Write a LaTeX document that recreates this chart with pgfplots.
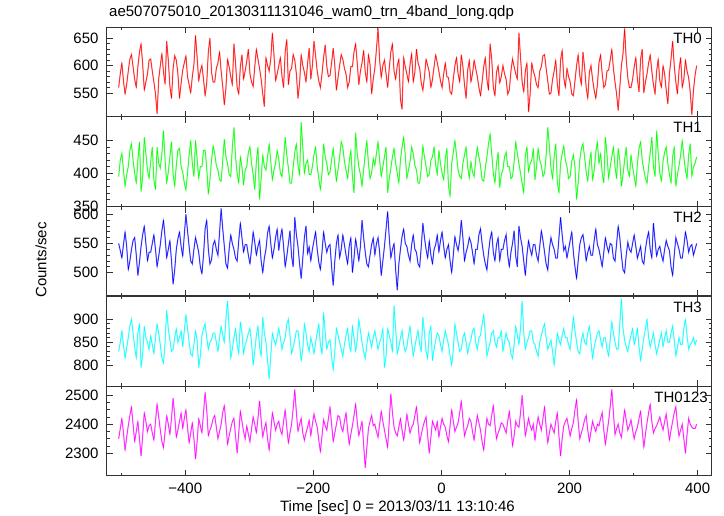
\documentclass[border=0pt]{standalone}
\usepackage{fontspec}
\setmainfont{Liberation Sans}
\usepackage{pgfplots}
\usepackage{pgfplotstable}
\pgfplotsset{compat=1.18}

\definecolor{cRed}{RGB}{255,0,0}
\definecolor{cGreen}{RGB}{0,255,0}
\definecolor{cBlue}{RGB}{0,0,255}
\definecolor{cCyan}{RGB}{0,255,255}
\definecolor{cMag}{RGB}{255,0,255}
\definecolor{frameC}{RGB}{50,50,50}

% Light curves, 2.5 s bins starting at -504 s
\pgfplotstableread[row sep=\\]{y\\
560\\585\\605\\572\\548\\566\\590\\612\\620\\598\\575\\560\\598\\625\\640\\602\\555\\570\\585\\610\\
612\\590\\570\\548\\512\\575\\600\\622\\588\\566\\645\\610\\562\\540\\595\\618\\610\\585\\540\\568\\
592\\605\\618\\580\\565\\550\\580\\602\\655\\615\\572\\590\\600\\575\\545\\568\\625\\650\\588\\570\\
570\\595\\605\\625\\590\\562\\528\\560\\612\\598\\580\\565\\640\\605\\560\\548\\598\\620\\575\\590\\
608\\630\\585\\570\\562\\598\\630\\612\\595\\575\\548\\525\\615\\600\\590\\612\\660\\620\\572\\585\\
600\\615\\580\\560\\625\\648\\565\\590\\595\\620\\610\\585\\540\\568\\620\\600\\588\\570\\605\\632\\
575\\600\\645\\618\\590\\572\\560\\585\\615\\638\\598\\580\\582\\605\\632\\600\\555\\578\\600\\620\\
612\\595\\585\\560\\570\\598\\598\\625\\640\\605\\565\\590\\605\\628\\588\\570\\620\\602\\548\\575\\
595\\630\\668\\610\\578\\600\\610\\585\\560\\595\\625\\640\\590\\575\\600\\612\\538\\520\\615\\598\\
585\\570\\602\\622\\570\\588\\630\\605\\595\\568\\555\\580\\612\\600\\588\\560\\575\\598\\620\\605\\
590\\572\\560\\585\\605\\580\\578\\552\\548\\575\\600\\615\\585\\570\\620\\598\\565\\540\\592\\610\\
570\\585\\610\\595\\580\\560\\545\\570\\598\\615\\575\\555\\640\\612\\560\\545\\588\\600\\568\\580\\
600\\585\\575\\548\\555\\590\\612\\598\\585\\575\\660\\615\\570\\552\\590\\605\\515\\548\\605\\590\\
580\\565\\560\\590\\598\\618\\620\\595\\572\\548\\550\\575\\590\\610\\565\\545\\610\\628\\578\\560\\
595\\580\\570\\548\\545\\572\\600\\620\\582\\565\\625\\598\\560\\540\\588\\600\\575\\555\\540\\565\\
605\\620\\585\\560\\565\\590\\592\\610\\630\\595\\570\\548\\518\\560\\600\\622\\668\\612\\578\\560\\
560\\575\\598\\615\\575\\552\\612\\630\\550\\570\\585\\605\\620\\590\\565\\548\\590\\612\\572\\560\\
600\\585\\555\\530\\585\\612\\645\\600\\570\\548\\592\\615\\560\\575\\610\\590\\578\\552\\510\\555\\
582\\600\\}\thzero

\pgfplotstableread[row sep=\\]{y\\
395\\420\\430\\405\\380\\398\\410\\435\\445\\420\\400\\385\\420\\448\\372\\395\\455\\430\\405\\392\\
418\\440\\390\\375\\440\\415\\408\\430\\465\\420\\385\\402\\425\\448\\398\\380\\412\\435\\438\\410\\
402\\385\\375\\400\\428\\450\\415\\395\\450\\422\\392\\410\\410\\435\\435\\408\\368\\390\\420\\442\\
430\\412\\405\\390\\388\\420\\452\\425\\415\\398\\395\\440\\470\\425\\400\\385\\425\\410\\382\\405\\
410\\432\\440\\415\\398\\375\\418\\440\\360\\392\\428\\410\\405\\425\\445\\418\\390\\405\\415\\435\\
422\\400\\395\\420\\455\\428\\408\\385\\385\\410\\432\\445\\412\\398\\478\\440\\400\\415\\420\\398\\
398\\410\\428\\440\\410\\392\\375\\400\\445\\425\\415\\398\\402\\420\\438\\412\\388\\405\\425\\448\\
440\\418\\405\\392\\418\\435\\395\\370\\462\\430\\410\\398\\380\\405\\430\\450\\415\\392\\400\\422\\
412\\430\\448\\420\\395\\410\\425\\440\\370\\392\\408\\425\\438\\415\\400\\385\\420\\440\\455\\428\\
392\\405\\418\\440\\430\\412\\405\\385\\385\\408\\442\\425\\410\\395\\398\\420\\425\\440\\412\\398\\
435\\415\\400\\390\\422\\438\\380\\365\\415\\432\\450\\428\\405\\395\\392\\415\\428\\440\\410\\392\\
418\\402\\395\\420\\440\\425\\412\\390\\388\\408\\425\\445\\460\\430\\400\\385\\415\\432\\378\\398\\
405\\425\\432\\410\\410\\392\\395\\418\\448\\430\\415\\400\\385\\370\\428\\440\\402\\415\\420\\438\\
390\\410\\438\\420\\412\\395\\400\\428\\470\\442\\408\\392\\425\\445\\385\\370\\415\\430\\442\\420\\
410\\392\\395\\418\\428\\410\\360\\385\\420\\438\\445\\425\\402\\388\\415\\432\\390\\405\\432\\448\\
415\\430\\400\\385\\455\\428\\392\\410\\425\\440\\410\\392\\438\\420\\380\\398\\420\\440\\405\\395\\
428\\410\\395\\380\\415\\438\\448\\420\\405\\392\\385\\410\\432\\455\\410\\395\\465\\430\\400\\388\\
418\\432\\440\\415\\398\\385\\425\\440\\380\\398\\412\\428\\450\\425\\405\\392\\428\\445\\395\\410\\
415\\425\\}\thone

\pgfplotstableread[row sep=\\]{y\\
550\\538\\525\\548\\570\\545\\505\\520\\540\\555\\560\\530\\495\\518\\545\\565\\580\\550\\520\\535\\
535\\550\\565\\540\\510\\528\\548\\572\\590\\560\\525\\540\\555\\520\\480\\505\\540\\558\\570\\545\\
528\\565\\600\\572\\545\\520\\515\\540\\560\\548\\535\\510\\498\\530\\575\\590\\540\\515\\522\\548\\
555\\540\\530\\568\\610\\575\\545\\515\\508\\540\\565\\550\\540\\525\\520\\555\\585\\560\\535\\548\\
548\\530\\515\\540\\570\\552\\530\\545\\555\\520\\500\\525\\540\\568\\580\\550\\525\\540\\560\\575\\
538\\560\\575\\545\\510\\528\\550\\572\\528\\510\\595\\565\\545\\515\\490\\525\\560\\580\\532\\545\\
520\\540\\555\\570\\540\\518\\505\\535\\570\\550\\535\\545\\548\\510\\478\\520\\550\\565\\525\\540\\
565\\548\\530\\515\\545\\560\\500\\525\\558\\540\\520\\545\\590\\560\\535\\515\\510\\530\\548\\560\\
530\\550\\560\\535\\495\\520\\545\\575\\605\\560\\525\\540\\550\\505\\470\\515\\540\\562\\575\\550\\
545\\530\\520\\548\\565\\540\\535\\515\\510\\545\\585\\560\\540\\525\\555\\530\\515\\540\\548\\565\\
535\\555\\570\\545\\525\\540\\548\\520\\500\\530\\562\\548\\538\\555\\590\\560\\520\\535\\545\\560\\
552\\535\\515\\540\\540\\565\\575\\550\\530\\515\\505\\535\\558\\570\\535\\520\\548\\560\\520\\540\\
540\\555\\565\\530\\510\\535\\550\\572\\528\\510\\580\\560\\545\\520\\495\\530\\555\\540\\530\\548\\
548\\530\\520\\545\\572\\555\\535\\515\\505\\540\\560\\548\\540\\525\\525\\560\\595\\565\\538\\545\\
525\\540\\555\\570\\535\\510\\490\\520\\548\\560\\565\\545\\520\\535\\545\\530\\530\\555\\575\\548\\
540\\525\\510\\535\\560\\545\\535\\550\\548\\525\\520\\550\\580\\560\\530\\505\\500\\530\\552\\540\\
535\\550\\565\\545\\525\\535\\545\\520\\515\\540\\558\\570\\540\\525\\585\\555\\528\\540\\545\\530\\
520\\540\\555\\545\\538\\510\\495\\530\\560\\550\\540\\525\\525\\545\\570\\555\\535\\545\\548\\530\\
540\\550\\}\thtwo

\pgfplotstableread[row sep=\\]{y\\
830\\850\\875\\845\\815\\838\\860\\885\\900\\870\\840\\815\\870\\890\\795\\825\\885\\860\\850\\835\\
865\\845\\825\\860\\890\\870\\845\\815\\805\\850\\920\\880\\855\\830\\835\\860\\880\\850\\860\\875\\
840\\875\\910\\880\\850\\825\\820\\845\\875\\855\\795\\820\\865\\880\\890\\860\\835\\850\\855\\870\\
870\\850\\830\\860\\885\\865\\850\\900\\940\\880\\815\\835\\860\\880\\845\\825\\895\\870\\825\\845\\
855\\870\\880\\850\\800\\830\\865\\885\\840\\820\\905\\870\\850\\810\\770\\820\\870\\855\\845\\860\\
880\\860\\835\\850\\860\\890\\900\\865\\825\\840\\855\\875\\875\\845\\810\\835\\890\\870\\845\\830\\
860\\845\\825\\850\\870\\890\\845\\825\\915\\870\\835\\850\\855\\820\\790\\830\\880\\865\\850\\835\\
820\\845\\865\\880\\845\\830\\885\\860\\830\\855\\900\\875\\850\\830\\815\\845\\870\\855\\840\\860\\
875\\855\\835\\850\\860\\880\\795\\820\\880\\865\\850\\830\\930\\880\\825\\840\\860\\875\\845\\830\\
840\\865\\885\\850\\820\\840\\860\\875\\845\\830\\905\\870\\830\\815\\870\\885\\810\\835\\855\\870\\
865\\845\\830\\855\\875\\860\\845\\820\\800\\835\\890\\870\\850\\830\\835\\860\\870\\850\\825\\845\\
855\\875\\880\\850\\835\\860\\865\\890\\910\\870\\820\\835\\850\\870\\875\\850\\840\\860\\860\\875\\
830\\850\\870\\855\\850\\825\\815\\845\\885\\865\\845\\880\\940\\870\\835\\850\\860\\875\\875\\850\\
845\\830\\820\\850\\865\\880\\890\\860\\835\\845\\855\\830\\800\\835\\870\\855\\845\\865\\880\\860\\
860\\845\\835\\870\\905\\875\\850\\830\\825\\855\\870\\850\\845\\870\\885\\850\\815\\840\\855\\870\\
875\\855\\840\\860\\860\\835\\820\\855\\895\\870\\850\\835\\835\\890\\945\\880\\855\\840\\830\\850\\
865\\880\\845\\860\\880\\840\\810\\835\\860\\880\\900\\860\\840\\855\\870\\845\\825\\840\\855\\870\\
840\\860\\875\\850\\850\\870\\885\\855\\820\\840\\860\\845\\845\\880\\900\\865\\835\\845\\850\\860\\
845\\855\\}\ththree

\pgfplotstableread[row sep=\\]{y\\
2350\\2385\\2420\\2370\\2310\\2355\\2395\\2430\\2460\\2400\\2340\\2375\\2410\\2350\\2290\\2360\\2440\\2410\\2375\\2395\\
2400\\2370\\2345\\2410\\2470\\2425\\2380\\2340\\2320\\2375\\2430\\2400\\2365\\2420\\2490\\2430\\2355\\2380\\2410\\2440\\
2385\\2420\\2450\\2390\\2335\\2370\\2405\\2350\\2280\\2340\\2420\\2395\\2370\\2440\\2510\\2450\\2360\\2380\\2395\\2420\\
2430\\2390\\2350\\2375\\2400\\2440\\2465\\2400\\2330\\2360\\2385\\2410\\2420\\2360\\2300\\2370\\2445\\2410\\2375\\2350\\
2395\\2365\\2340\\2385\\2425\\2400\\2370\\2420\\2480\\2415\\2355\\2385\\2405\\2350\\2310\\2375\\2440\\2410\\2380\\2400\\
2410\\2380\\2365\\2410\\2450\\2390\\2335\\2370\\2400\\2455\\2520\\2440\\2375\\2400\\2420\\2370\\2345\\2370\\2390\\2415\\
2360\\2400\\2435\\2410\\2390\\2345\\2305\\2360\\2415\\2395\\2380\\2420\\2460\\2400\\2340\\2370\\2400\\2430\\2425\\2390\\
2375\\2410\\2440\\2380\\2330\\2365\\2395\\2430\\2470\\2410\\2360\\2385\\2410\\2330\\2250\\2320\\2385\\2410\\2430\\2395\\
2400\\2375\\2355\\2400\\2445\\2410\\2380\\2350\\2320\\2410\\2505\\2440\\2390\\2370\\2360\\2390\\2420\\2380\\2345\\2385\\
2435\\2400\\2370\\2390\\2400\\2430\\2460\\2400\\2335\\2365\\2390\\2410\\2425\\2360\\2300\\2355\\2410\\2395\\2380\\2410\\
2355\\2390\\2420\\2400\\2390\\2360\\2340\\2395\\2450\\2410\\2375\\2390\\2405\\2440\\2480\\2420\\2360\\2380\\2395\\2420\\
2410\\2375\\2345\\2390\\2430\\2405\\2380\\2340\\2310\\2370\\2420\\2400\\2395\\2430\\2465\\2400\\2350\\2370\\2385\\2405\\
2400\\2385\\2370\\2410\\2445\\2390\\2325\\2360\\2410\\2395\\2390\\2440\\2500\\2430\\2360\\2390\\2420\\2395\\2380\\2400\\
2345\\2390\\2425\\2400\\2380\\2420\\2460\\2390\\2335\\2370\\2400\\2385\\2370\\2410\\2440\\2360\\2290\\2350\\2395\\2410\\
2420\\2390\\2360\\2385\\2405\\2450\\2485\\2410\\2350\\2370\\2390\\2415\\2430\\2380\\2340\\2375\\2410\\2390\\2375\\2400\\
2395\\2420\\2440\\2380\\2330\\2370\\2410\\2460\\2520\\2440\\2365\\2385\\2400\\2370\\2355\\2400\\2450\\2415\\2380\\2395\\
2415\\2380\\2350\\2375\\2390\\2420\\2445\\2380\\2320\\2365\\2405\\2440\\2470\\2410\\2370\\2385\\2395\\2410\\2425\\2400\\
2380\\2410\\2435\\2390\\2345\\2380\\2410\\2440\\2460\\2400\\2360\\2380\\2400\\2350\\2300\\2365\\2420\\2400\\2390\\2385\\
2385\\2400\\}\thfour

\pgfplotsset{
  panel/.style={
    scale only axis, width=605.2pt,
    xmin=-523, xmax=422,
    axis line style={draw=frameC, line width=1.2pt},
    every tick/.style={draw=frameC, line width=0.8pt},
    tick align=inside, major tick length=6pt, minor tick length=3pt,
    xtick={-400,-200,0,200,400}, minor xtick={-500,-300,-100,100,300},
    xticklabels={,,,,},
    minor y tick num=4,
    ticklabel style={font=\fontsize{15}{15}\selectfont, text=black},
    yticklabel style={xshift=-4.5pt},
    xticklabel style={yshift=-3.6pt},
    /pgf/number format/assume math mode=true,
    /pgf/number format/1000 sep={},
    scaled y ticks=false,
    clip=true,
  },
}
\tikzset{lab/.style={anchor=north east, inner sep=0pt, font=\fontsize{15}{15}\selectfont}}

% light halo (stands in for the error bars) under the data line
\newcommand{\curve}[2]{%
  \addplot[draw=#2!40, line width=1.3pt, mark=none, line join=miter, miter limit=6]
    table[x expr=\coordindex*2.5-504, y=y]{#1};
  \addplot[draw=#2, line width=0.5pt, mark=none]
    table[x expr=\coordindex*2.5-504, y=y]{#1};
}

\begin{document}
\begin{tikzpicture}
\useasboundingbox (0,0) rectangle (724pt,516pt);

% TH0
\begin{axis}[panel, at={(106.5pt,399.3pt)}, anchor=south west, height=89.4pt,
  ymin=506.7, ymax=670, ytick={550,600,650}]
  \curve{\thzero}{cRed}
  \node[lab] at (rel axis cs:1,1) [xshift=-9.7pt, yshift=-5.4pt] {TH0};
\end{axis}

% TH1
\begin{axis}[panel, at={(106.5pt,309.3pt)}, anchor=south west, height=90pt,
  ymin=349, ymax=486.3, ytick={350,400,450}]
  \curve{\thone}{cGreen}
  \node[lab] at (rel axis cs:1,1) [xshift=-9.7pt, yshift=-5.4pt] {TH1};
\end{axis}

% TH2
\begin{axis}[panel, at={(106.5pt,220pt)}, anchor=south west, height=89.3pt,
  ymin=460.1, ymax=613, ytick={500,550,600}]
  \curve{\thtwo}{cBlue}
  \node[lab] at (rel axis cs:1,1) [xshift=-9.7pt, yshift=-5.4pt] {TH2};
\end{axis}

% TH3
\begin{axis}[panel, at={(106.5pt,129.5pt)}, anchor=south west, height=90.5pt,
  ymin=753.9, ymax=950.6, ytick={800,850,900}]
  \curve{\ththree}{cCyan}
  \node[lab] at (rel axis cs:1,1) [xshift=-9.7pt, yshift=-5.4pt] {TH3};
\end{axis}

% TH0123
\begin{axis}[panel, at={(106.5pt,40.3pt)}, anchor=south west, height=89.2pt,
  ymin=2222.8, ymax=2530, ytick={2300,2400,2500}, minor y tick num=3,
  xticklabels={−400,−200,0,200,400}]
  \curve{\thfour}{cMag}
  \node[lab] at (rel axis cs:1,1) [xshift=-3.7pt, yshift=-5.4pt] {TH0123};
\end{axis}

\node[anchor=base west, inner sep=0pt, font=\fontsize{15}{15}\selectfont] at (109pt,499pt)
  {ae507075010\_20130311131046\_wam0\_trn\_4band\_long.qdp};
\node[anchor=base, inner sep=0pt, font=\fontsize{15}{15}\selectfont] at (397.5pt,4.5pt)
  {Time [sec] 0 = 2013/03/11 13:10:46};
\node[rotate=90, anchor=center, inner sep=0pt, font=\fontsize{15}{15}\selectfont] at (41pt,256pt)
  {Counts/sec};
\end{tikzpicture}
\end{document}
